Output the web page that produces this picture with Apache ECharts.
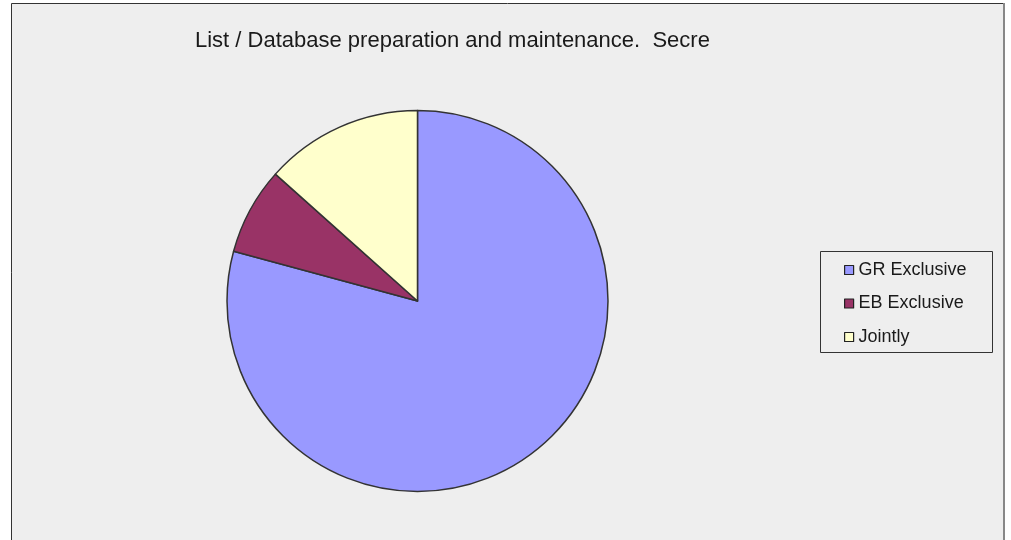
<!DOCTYPE html>
<html><head><meta charset="utf-8">
<script src="https://cdn.jsdelivr.net/npm/echarts@6/dist/echarts.min.js"></script>
<style>html,body{margin:0;padding:0;background:#fff}#c{width:1011px;height:540px}</style>
</head><body><div id="c"></div>
<script>
const titleText = "List / Database preparation and maintenance.  Secre";
const categories = ["GR Exclusive", "EB Exclusive", "Jointly"];
const values = [79.2, 7.4, 13.4];
const colors = ["#9999FF", "#993366", "#FFFFCC"];

const chart = echarts.init(document.getElementById('c'), null, {renderer: 'canvas'});
chart.setOption({
  animation: false,
  backgroundColor: '#ffffff',
  graphic: [
    {type: 'rect', z: -10, shape: {x: 11.5, y: 3.5, width: 992, height: 560}, style: {fill: '#EEEEEE', stroke: '#333333', lineWidth: 1}},
    {type: 'line', z: -9, shape: {x1: 1004, y1: 3, x2: 1004, y2: 540}, style: {stroke: '#888888', lineWidth: 2}},
    {type: 'rect', z: -8, shape: {x: 820.5, y: 251.5, width: 172, height: 101}, style: {fill: '#EEEEEE', stroke: '#333333', lineWidth: 1}}
  ],
  title: {
    text: titleText,
    left: 195, top: 30, padding: 0,
    textStyle: {fontFamily: 'Liberation Sans, Arial, sans-serif', fontSize: 22, lineHeight: 22, fontWeight: 'normal', color: '#1a1a1a'}
  },
  legend: {
    orient: 'vertical',
    left: 839, top: 256,
    padding: [5, 5, 5, 5],
    itemWidth: 9, itemHeight: 9, itemGap: 15.5,
    icon: 'rect',
    data: categories,
    textStyle: {fontFamily: 'Liberation Sans, Arial, sans-serif', fontSize: 18, color: '#1a1a1a', lineHeight: 18},
    itemStyle: {borderColor: '#222222', borderWidth: 1.2}
  },
  series: [{
    type: 'pie',
    center: [417.5, 301],
    radius: [0, 190.5],
    startAngle: 90,
    clockwise: true,
    label: {show: false},
    labelLine: {show: false},
    emphasis: {disabled: true},
    itemStyle: {borderColor: '#333333', borderWidth: 1.5},
    data: categories.map((n, i) => ({name: n, value: values[i], itemStyle: {color: colors[i]}}))
  }]
});
</script></body></html>
